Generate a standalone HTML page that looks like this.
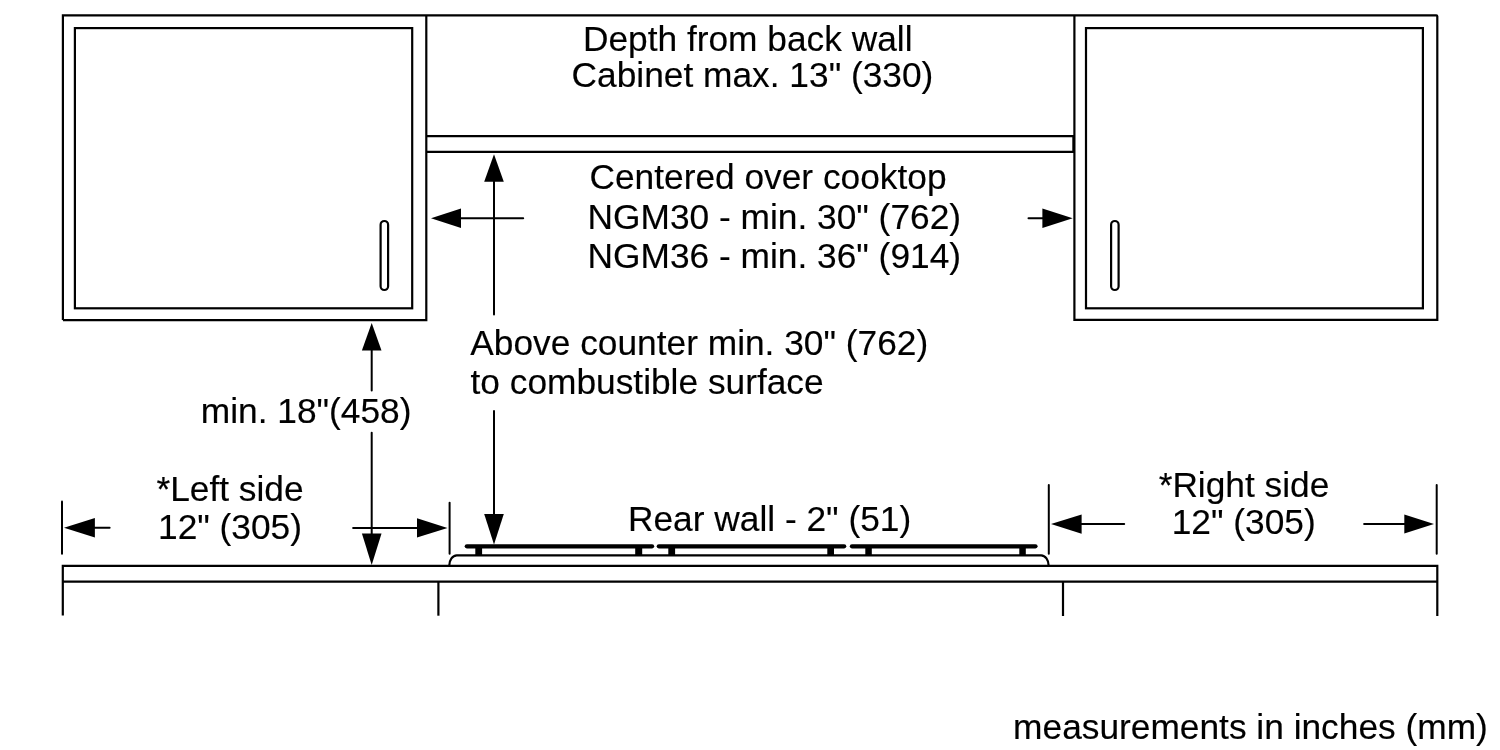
<!DOCTYPE html>
<html>
<head>
<meta charset="utf-8">
<title>Cooktop installation clearances</title>
<style>
html,body{margin:0;padding:0;background:#fff;}
body{width:1500px;height:750px;overflow:hidden;}
svg{display:block;will-change:transform;}
text{font-family:"Liberation Sans",sans-serif;font-size:35.3px;fill:#000;stroke:#000;stroke-width:0.15px;stroke-linejoin:round;}
.l{fill:none;stroke:#000;stroke-width:2.2;}
.t{fill:none;stroke:#000;stroke-width:2;stroke-linecap:round;}
.g{fill:none;stroke:#000;stroke-width:4.2;stroke-linecap:round;}
.a{fill:#000;stroke:none;}
.f{fill:#000;stroke:none;}
</style>
</head>
<body>
<svg width="1500" height="750" viewBox="0 0 1500 750">
<rect x="0" y="0" width="1500" height="750" fill="#fff"/>

<!-- upper cabinets -->
<g class="l">
  <path d="M62.9 320.1 V15.3 H1436.3 Q1437.3 15.3 1437.3 16.3 V319.8 H1074.4 V15.3" />
  <path d="M62.9 320.1 H426.3 V15.3"/>
  <rect x="74.9" y="28.1" width="337.3" height="280.2"/>
  <rect x="1086" y="28.1" width="336.9" height="280.2"/>
  <path d="M426.3 136.1 H1073.4 V151.9 H426.3"/>
  <rect x="380.6" y="221" width="7.5" height="69" rx="3.75" ry="3.75"/>
  <rect x="1111.1" y="221" width="7.5" height="69" rx="3.75" ry="3.75"/>
</g>

<!-- countertop and base -->
<g class="l">
  <path d="M62.8 615.5 V565.9 H1437.3 V616"/>
  <path d="M62.8 581.6 H1437.3"/>
  <path d="M438.4 581.6 V615.7"/>
  <path d="M1063 581.6 V616"/>
  <path d="M449.2 565.9 A7.6 10.5 0 0 1 456.8 555.4 H1041.1 A7.6 10.5 0 0 1 1048.7 565.9"/>
</g>

<!-- grates -->
<g class="g">
  <path d="M466.8 546.3 H652.1"/>
  <path d="M658.8 546.3 H844.2"/>
  <path d="M851.9 546.3 H1035.5"/>
</g>
<g class="f">
  <rect x="475.3" y="546" width="6.8" height="9.5"/>
  <rect x="635.2" y="546" width="7" height="9.5"/>
  <rect x="668.3" y="546" width="6.8" height="9.5"/>
  <rect x="827.3" y="546" width="6.7" height="9.5"/>
  <rect x="865.3" y="546" width="6.5" height="9.5"/>
  <rect x="1019.3" y="546" width="6.5" height="9.5"/>
</g>

<!-- dimension lines -->
<g class="t">
  <path d="M494 180 V314.5"/>
  <path d="M494 411 V515"/>
  <path d="M460 218.2 H523.2"/>
  <path d="M1028.5 218.2 H1043"/>
  <path d="M371.7 350 V390.4"/>
  <path d="M371.7 432.8 V535"/>
  <path d="M62 501.5 V553.7"/>
  <path d="M449.6 502.8 V553.7"/>
  <path d="M1048.8 485 V553.7"/>
  <path d="M1436.7 485 V553.7"/>
  <path d="M94 527.8 H109.6"/>
  <path d="M353.1 527.9 H418"/>
  <path d="M1081 524.1 H1124.2"/>
  <path d="M1364.1 524.1 H1405"/>
</g>
<g class="a">
  <polygon points="494,154.3 503.8,181.8 484.2,181.8"/>
  <polygon points="494,544.5 503.8,514 484.2,514"/>
  <polygon points="431,218.2 461,208.5 461,227.9"/>
  <polygon points="1072.7,218.2 1042.4,208.5 1042.4,227.9"/>
  <polygon points="371.7,323 381.5,350.5 361.9,350.5"/>
  <polygon points="371.7,565 381.5,533.6 361.9,533.6"/>
  <polygon points="64,527.8 94.9,518.1 94.9,537.5"/>
  <polygon points="447.5,527.9 417,518.2 417,537.6"/>
  <polygon points="1051,524.1 1081.6,514.4 1081.6,533.8"/>
  <polygon points="1434,524 1404.3,514.4 1404.3,533.6"/>
</g>

<!-- labels -->
<text x="747.7" y="51.4" text-anchor="middle">Depth from back wall</text>
<text x="752.5" y="86.7" text-anchor="middle">Cabinet max. 13" (330)</text>
<text x="768" y="189" text-anchor="middle">Centered over cooktop</text>
<text x="774.3" y="228.8" text-anchor="middle">NGM30 - min. 30" (762)</text>
<text x="774.3" y="268.4" text-anchor="middle">NGM36 - min. 36" (914)</text>
<text x="470.3" y="354.8">Above counter min. 30" (762)</text>
<text x="470.5" y="394.4">to combustible surface</text>
<text x="200.8" y="423.3">min. 18"(458)</text>
<text x="230" y="501.4" text-anchor="middle">*Left side</text>
<text x="230" y="538.7" text-anchor="middle">12" (305)</text>
<text x="628" y="531">Rear wall - 2" (51)</text>
<text x="1244" y="496.8" text-anchor="middle">*Right side</text>
<text x="1243.7" y="534.3" text-anchor="middle">12" (305)</text>
<text x="1487.8" y="738.5" text-anchor="end">measurements in inches (mm)</text>
</svg>
</body>
</html>
